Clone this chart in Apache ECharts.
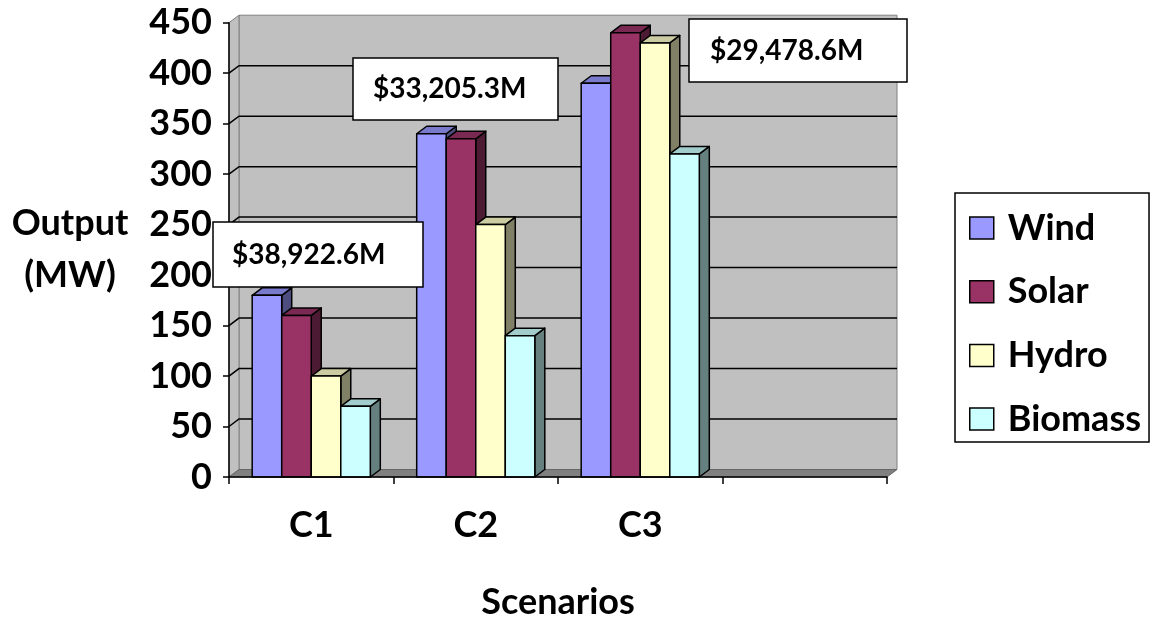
<!DOCTYPE html>
<html>
<head>
<meta charset="utf-8">
<script src="https://cdn.jsdelivr.net/npm/echarts@6/dist/echarts.min.js"></script>
<style>
html,body{margin:0;padding:0;background:#fff;}
#chart{width:1153px;height:625px;}
</style>
</head>
<body>
<div id="chart"></div>
<script>
// ---- data ----
const categories = ['C1', 'C2', 'C3', ''];
const seriesNames = ['Wind', 'Solar', 'Hydro', 'Biomass'];
const wind = [180, 340, 390];
const solar = [160, 335, 440];
const hydro = [100, 250, 430];
const biomass = [70, 140, 320];
const costLabels = ['$38,922.6M', '$33,205.3M', '$29,478.6M'];
const yMin = 0, yMax = 450, yInterval = 50;

// ---- styles ----
const frontColors = ['#9999FF', '#993366', '#FFFFCC', '#CCFFFF'];
const topColors = ['#7A7ACC', '#7A2952', '#CCCCA3', '#A3CCCC'];
const sideColors = ['#4D4D80', '#4D1A33', '#808066', '#668080'];
const DX = 10, DY = -7.5;
const FONT = 'Lato, "Open Sans", sans-serif';

const allValues = [wind, solar, hydro, biomass];

function barRender(idx) {
  return function (params, api) {
    const cat = api.value(0), v = api.value(1);
    const c = api.coord([cat, v]);
    const b = api.coord([cat, 0]);
    const band = api.size([1, 0])[0];
    const bw = band * 0.1795;
    const xl = c[0] - 2 * bw + idx * bw;
    const xr = xl + bw;
    const yt = c[1], yb = b[1];
    const st = { stroke: '#000', lineWidth: 1.5, lineJoin: 'round' };
    return {
      type: 'group',
      children: [
        { type: 'polygon', shape: { points: [[xr, yb], [xr, yt], [xr + DX, yt + DY], [xr + DX, yb + DY]] },
          style: Object.assign({ fill: sideColors[idx] }, st) },
        { type: 'polygon', shape: { points: [[xl, yt], [xr, yt], [xr + DX, yt + DY], [xl + DX, yt + DY]] },
          style: Object.assign({ fill: topColors[idx] }, st) },
        { type: 'rect', shape: { x: xl, y: yt, width: bw, height: yb - yt },
          style: Object.assign({ fill: frontColors[idx] }, st) }
      ]
    };
  };
}

function wallRender(params, api) {
  const cs = params.coordSys;
  const x0 = cs.x, x1 = cs.x + cs.width, yt = cs.y, yb = cs.y + cs.height;
  const children = [
    { type: 'rect', shape: { x: x0 + DX, y: yt + DY, width: x1 - x0, height: yb - yt },
      style: { fill: '#C0C0C0', stroke: '#808080', lineWidth: 1 } },
    { type: 'polygon', shape: { points: [[x0, yb], [x0, yt], [x0 + DX, yt + DY], [x0 + DX, yb + DY]] },
      style: { fill: '#C0C0C0', stroke: '#808080', lineWidth: 1 } },
    { type: 'polygon', shape: { points: [[x0, yb], [x1, yb], [x1 + DX, yb + DY], [x0 + DX, yb + DY]] },
      style: { fill: '#808080', stroke: '#666', lineWidth: 1 } }
  ];
  for (let v = yMin + yInterval; v < yMax; v += yInterval) {
    const y = api.coord([0, v])[1];
    children.push({ type: 'polyline', shape: { points: [[x0, y], [x0 + DX, y + DY], [x1 + DX, y + DY]] },
      style: { stroke: '#000', lineWidth: 1.5, fill: null } });
  }
  return { type: 'group', children: children };
}

const chart = echarts.init(document.getElementById('chart'), null, { renderer: 'canvas' });

const series = [{
  type: 'custom', name: '_walls', z: 1, silent: true,
  renderItem: wallRender, data: [[0, 0]]
}];
seriesNames.forEach(function (name, i) {
  series.push({
    type: 'custom', name: name, z: 2,
    itemStyle: { color: frontColors[i] },
    renderItem: barRender(i),
    data: allValues[i].map(function (v, k) { return [k, v]; })
  });
});

// annotation boxes
const boxes = [
  { x: 213, y: 222, w: 210, h: 65, tx: 232 },
  { x: 353, y: 58, w: 205, h: 62, tx: 373 },
  { x: 689, y: 19, w: 218, h: 63, tx: 710 }
];
const graphic = [];
boxes.forEach(function (bx, i) {
  graphic.push({ type: 'rect', z: 100, zlevel: 1, shape: { x: bx.x, y: bx.y, width: bx.w, height: bx.h },
    style: { fill: '#fff', stroke: '#000', lineWidth: 1.5 } });
  graphic.push({ type: 'text', z: 101, zlevel: 1, x: bx.tx, y: bx.y + bx.h / 2,
    style: { text: costLabels[i], font: 'bold 28px ' + FONT, fill: '#000',
             textAlign: 'left', textVerticalAlign: 'middle' } });
});

chart.setOption({
  backgroundColor: '#fff',
  animation: false,
  color: frontColors,
  grid: { left: 229, right: 266, top: 22.7, bottom: 142.7, containLabel: false },
  legend: {
    data: seriesNames,
    orient: 'vertical',
    left: 955, top: 193,
    icon: 'rect',
    itemWidth: 24, itemHeight: 22,
    itemGap: 23.7,
    padding: [15, 8, 3, 14],
    borderColor: '#000', borderWidth: 1.5,
    itemStyle: { borderColor: '#000', borderWidth: 1.5 },
    textStyle: { fontFamily: FONT, fontWeight: 'bold', fontSize: 36, color: '#000', lineHeight: 40, padding: [0, 0, 0, 9] }
  },
  xAxis: {
    type: 'category', data: categories, z: 10,
    name: 'Scenarios', nameLocation: 'middle', nameGap: 125,
    nameTextStyle: { fontFamily: FONT, fontWeight: 'bold', fontSize: 36, color: '#000', verticalAlign: 'middle' },
    axisLine: { lineStyle: { color: '#000', width: 1.5 } },
    axisTick: { show: true, length: 7, lineStyle: { color: '#000', width: 1.5 } },
    axisLabel: { fontFamily: FONT, fontWeight: 'bold', fontSize: 36, color: '#000', margin: 48, verticalAlign: 'middle' },
    splitLine: { show: false }
  },
  yAxis: {
    type: 'value', min: yMin, max: yMax, interval: yInterval, z: 10,
    name: 'Output\n(MW)', nameLocation: 'middle', nameGap: 159, nameRotate: 0,
    nameTextStyle: { fontFamily: FONT, fontWeight: 'bold', fontSize: 36, color: '#000', lineHeight: 52, align: 'center', verticalAlign: 'middle' },
    axisLine: { show: true, lineStyle: { color: '#000', width: 1.5 } },
    axisTick: { show: true, length: 6, lineStyle: { color: '#000', width: 1.5 } },
    axisLabel: { fontFamily: FONT, fontWeight: 'bold', fontSize: 36, color: '#000', margin: 17 },
    splitLine: { show: false }
  },
  graphic: graphic,
  series: series
});
</script>
</body>
</html>
